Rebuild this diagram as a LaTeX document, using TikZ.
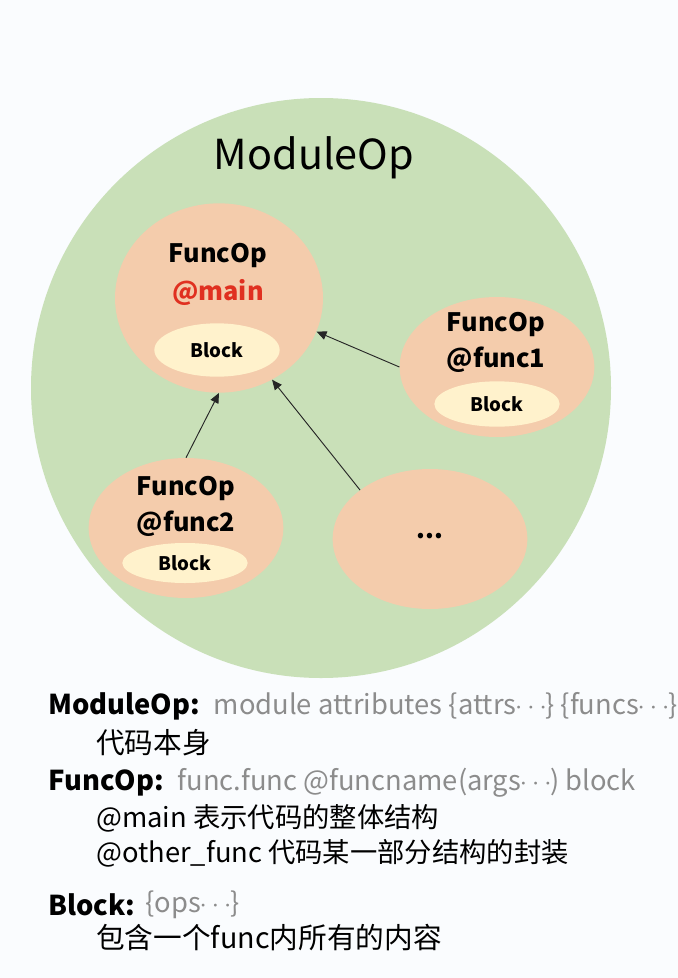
\documentclass[tikz,border=0pt]{standalone}
\usepackage{fontspec}
\setmainfont{Noto Sans CJK SC}
\usetikzlibrary{shapes.geometric,positioning,arrows.meta}
\definecolor{bgpage}{RGB}{250,252,254}
\definecolor{modgreen}{RGB}{201,224,184}
\definecolor{funcorange}{RGB}{244,204,172}
\definecolor{blockyellow}{RGB}{255,242,204}
\definecolor{mainred}{RGB}{224,48,32}
\definecolor{defgray}{RGB}{140,140,140}
\newcommand{\mdots}{\ensuremath{\mkern-1mu\cdots\mkern-1mu}}
\begin{document}
\begin{tikzpicture}[x=0.75pt,y=-0.75pt,
  funcop/.style={ellipse,fill=funcorange,inner sep=0pt,minimum width=146pt,minimum height=105pt},
  blockop/.style={ellipse,fill=blockyellow,inner sep=0pt,minimum width=94pt,minimum height=32pt,font=\bfseries\fontsize{14}{16}\selectfont},
  funclabel/.style={inner sep=0pt,font=\bfseries\fontsize{19}{22}\selectfont},
  desc/.style={anchor=west,inner sep=0pt,font=\fontsize{20.5}{23}\selectfont},
  call/.style={-{Triangle[length=7.5pt,width=6.5pt]},line width=0.7pt,black!85}]
\tikzstyle{every node}+=[inner sep=0pt]
\useasboundingbox (0,0) rectangle (678,978);
\fill [bgpage] (0,0) rectangle (678,978);
% the module
\node [circle,fill=modgreen,minimum size=435pt] (module) at (321,388) {};
\node [font=\fontsize{31}{34}\selectfont] (moduletitle) at (314,158) {ModuleOp};
% functions
\node [funcop,minimum width=156pt,minimum height=142pt] (main) at (219,298) {};
\node [funclabel] (mainname) at (218,256) {FuncOp};
\node [funclabel,text=mainred] (mainat) at (218,292) {@main};
\node [blockop,minimum height=40pt] (mainblock) at (217,350) {Block};
\node [funcop] (func1) at (497,367) {};
\node [funclabel] (func1name) at (496,325) {FuncOp};
\node [funclabel] (func1at) at (496,360) {@func1};
\node [blockop,minimum height=34pt] (func1block) at (497,404) {Block};
\node [funcop] (func2) at (186,528) {};
\node [funclabel] (func2name) at (186,489) {FuncOp};
\node [funclabel] (func2at) at (186,524) {@func2};
\node [blockop,minimum height=30pt] (func2block) at (185,563) {Block};
\node [funcop] (more) at (430,539) {};
\node [funclabel] (moredots) at (430,536) {...};
% calls
\draw [call] (func1.west) -- (main.-19);
\draw [call] (func2.north) -- (main.south);
\draw [call] (more.145) -- (main.-57);
% legend
\node [desc,font=\bfseries\fontsize{20.5}{23}\selectfont] (modkey) at (48,706) {ModuleOp:};
\node [desc,text=defgray,right=10pt of modkey] (moddef) {module attributes \{attrs\mdots\} \{funcs\mdots\}};
\node [desc,font=\fontsize{21.5}{23}\selectfont] (modnote) at (96,743) {代码本身};
\node [desc,font=\bfseries\fontsize{20.5}{23}\selectfont] (funckey) at (48,783) {FuncOp:};
\node [desc,text=defgray,right=10pt of funckey] (funcdef) {func.func @funcname(args\mdots) block};
\node [desc] (funcnote1) at (96,818) {@main 表示代码的整体结构};
\node [desc] (funcnote2) at (96,853) {@other\_func 代码某一部分结构的封装};
\node [desc,font=\bfseries\fontsize{20.5}{23}\selectfont] (blockkey) at (48,905) {Block:};
\node [desc,text=defgray,right=7pt of blockkey] (blockdef) {\{ops\mdots\}};
\node [desc,font=\fontsize{21.5}{23}\selectfont] (blocknote) at (96,938) {包含一个func内所有的内容};
\end{tikzpicture}
\end{document}
